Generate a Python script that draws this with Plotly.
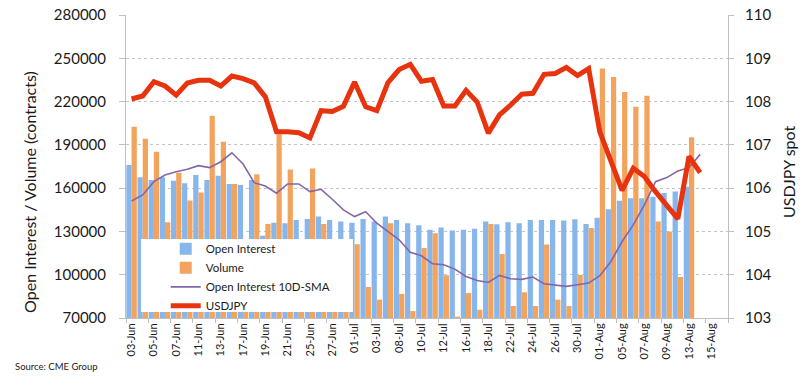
import plotly.graph_objects as go

dates = ["03-Jun","04-Jun","05-Jun","06-Jun","07-Jun","10-Jun","11-Jun","12-Jun","13-Jun","14-Jun",
         "17-Jun","18-Jun","19-Jun","20-Jun","21-Jun","24-Jun","25-Jun","26-Jun","27-Jun","28-Jun",
         "01-Jul","02-Jul","03-Jul","05-Jul","08-Jul","09-Jul","10-Jul","11-Jul","12-Jul","15-Jul",
         "16-Jul","17-Jul","18-Jul","19-Jul","22-Jul","23-Jul","24-Jul","25-Jul","26-Jul","29-Jul",
         "30-Jul","31-Jul","01-Aug","02-Aug","05-Aug","06-Aug","07-Aug","08-Aug","09-Aug","12-Aug",
         "13-Aug","14-Aug","15-Aug","16-Aug"]

open_interest = [176000,167500,165700,167500,165200,163400,169100,165700,168600,162900,
                 162200,165700,127000,136000,135700,138000,138700,140300,138000,136900,
                 136100,138700,136900,140300,138000,135700,134300,131100,132700,130600,
                 131100,131800,136900,135000,136400,135700,138000,138000,138000,137500,
                 138400,135200,139500,145400,151300,153000,153000,154000,156700,157600,
                 161000]

volume = [202500,194200,185200,136400,170700,151400,156900,210100,192100,162900,
          110000,169600,135200,197300,173000,100000,173700,135200,95000,90000,
          121200,91400,82700,135700,86700,74800,118600,128800,99700,71000,
          87300,75700,135100,114300,78300,87800,78300,121000,82700,78300,
          99800,132300,243000,237100,226700,216400,224000,136900,130000,98400,
          195200]

oi_sma10 = [151100,155300,164500,169100,171400,173100,175600,174200,178300,184500,
            176700,163800,161500,156500,162900,162900,157600,159200,152300,144900,
            140300,143700,135700,129900,124200,115600,113100,107600,106900,103900,
            98800,96000,94600,99500,97200,96800,98400,93700,93000,91900,
            93000,94200,99300,109200,123000,134500,148400,164500,167300,171900,
            174200,183400]

usdjpy = [108.06,108.13,108.46,108.36,108.15,108.43,108.49,108.49,108.36,108.59,
          108.53,108.43,108.11,107.30,107.30,107.28,107.16,107.79,107.77,107.89,
          108.45,107.88,107.79,108.44,108.74,108.86,108.47,108.51,107.90,107.90,
          108.26,107.99,107.27,107.69,107.92,108.17,108.19,108.63,108.65,108.79,
          108.60,108.76,107.30,106.60,105.95,106.46,106.27,105.92,105.61,105.29,
          106.73,106.36]

left_ticks = [70000, 100000, 130000, 160000, 190000, 220000, 250000, 280000]
left_labels = ["70000", "100000", "130000", "160000", "190000", "220000", "250000", "280000"]
right_ticks = [103, 104, 105, 106, 107, 108, 109, 110]

def pad(vals):
    return list(vals) + [None] * (len(dates) - len(vals))

FONT = "Lato, 'Open Sans', sans-serif"

fig = go.Figure()
fig.add_trace(go.Bar(x=dates, y=pad(open_interest), name="Open Interest",
                     marker=dict(color="#86b6eb", line=dict(width=0))))
fig.add_trace(go.Bar(x=dates, y=pad(volume), name="Volume",
                     marker=dict(color="#f2a45e", line=dict(width=0))))
fig.add_trace(go.Scatter(x=dates, y=pad(oi_sma10), name="Open Interest 10D-SMA",
                         mode="lines", line=dict(color="#8466a8", width=1.6)))
fig.add_trace(go.Scatter(x=dates, y=pad(usdjpy), name="USDJPY", yaxis="y2",
                         mode="lines", line=dict(color="#e8330f", width=5)))

fig.update_layout(
    template="none",
    width=804, height=388,
    margin=dict(l=126, r=76, t=15, b=70, pad=0),
    paper_bgcolor="white", plot_bgcolor="white",
    font=dict(family=FONT, color="#1a1a1a"),
    barmode="group", bargap=0.06, bargroupgap=0,
    showlegend=True,
    legend=dict(x=0.066, y=0.276, xanchor="left", yanchor="top",
                bgcolor="rgba(0,0,0,0)", borderwidth=0,
                font=dict(family=FONT, size=11.5, color="#1a1a1a"),
                tracegroupgap=0, itemwidth=30),
    xaxis=dict(type="category", tickmode="linear", tick0=0, dtick=2, automargin=False,
               tickangle=-90, tickfont=dict(size=11, family=FONT),
               showgrid=False, showline=True, linecolor="#bfbfbf", linewidth=1,
               ticks="outside", ticklen=4, tickcolor="#bfbfbf", tickson="boundaries",
               range=[-0.5, len(dates) - 0.5]),
    yaxis=dict(range=[70000, 280000], tickvals=left_ticks, ticktext=left_labels,
               automargin=False, tickfont=dict(size=15, family=FONT),
               showgrid=True, gridcolor="#c4c4c4", griddash="dot", gridwidth=1,
               showline=True, linecolor="#bfbfbf", linewidth=1,
               ticks="outside", ticklen=6, tickcolor="#bfbfbf",
               ticklabelstandoff=10, zeroline=False),
    yaxis2=dict(range=[103, 110], tickvals=right_ticks, overlaying="y", side="right",
                automargin=False, tickfont=dict(size=15, family=FONT),
                showgrid=False, showline=True, linecolor="#bfbfbf", linewidth=1,
                ticks="outside", ticklen=5, tickcolor="#bfbfbf",
                ticklabelstandoff=8, zeroline=False),
    shapes=[dict(type="rect", xref="paper", yref="paper",
                 x0=0.0249, x1=0.377, y0=0.0198, y1=0.2607,
                 fillcolor="white", line=dict(width=0), layer="above")],
    annotations=[
        dict(text="Open Interest / Volume (contracts)", xref="paper", yref="paper",
             x=-0.1595, y=0.416, xanchor="center", yanchor="middle", textangle=-90,
             showarrow=False, font=dict(size=16, family=FONT, color="#1a1a1a")),
        dict(text="USDJPY spot", xref="paper", yref="paper",
             x=1.1013, y=0.482, xanchor="center", yanchor="middle", textangle=-90,
             showarrow=False, font=dict(size=16, family=FONT, color="#1a1a1a")),
        dict(text="Source: CME Group", xref="paper", yref="paper",
             x=-0.1877, y=-0.1617, xanchor="left", yanchor="middle",
             showarrow=False, font=dict(size=9.5, family=FONT, color="#1a1a1a")),
    ],
)

fig.write_html("out.html", config={"displayModeBar": False},
               post_script="document.body.style.margin='0px';document.body.style.overflow='hidden';")
